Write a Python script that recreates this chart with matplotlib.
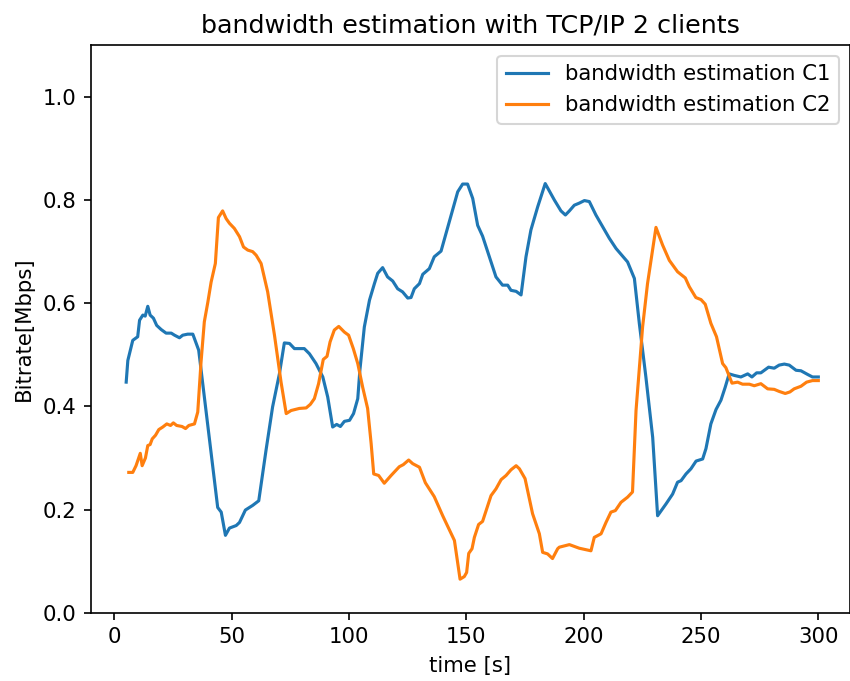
import matplotlib
matplotlib.use("Agg")
import matplotlib.pyplot as plt

# Client 1 bandwidth estimate: time [s] and bitrate [Mbps]
t_c1 = [5, 5.7, 7.8, 9.9, 10.7, 12.1, 13.1, 14.2, 15.2, 16.6, 18.0, 19.9, 22.0,
        24.2, 25.6, 27.7, 29.1, 31.2, 33.4, 35.9, 44.0, 45.5, 47.3, 49.0, 51.9,
        53.3, 55.8, 58.9, 61.5, 64.6, 67.4, 70.3, 72.4, 74.6, 76.7, 80.9, 83.1,
        85.9, 88.8, 90.9, 93.0, 94.7, 96.3, 98.0, 100.2, 101.9, 103.7, 104.6,
        106.5, 108.7, 110.8, 112.2, 114.3, 116.4, 118.6, 120.7, 122.8, 125.0,
        126.4, 127.8, 130.0, 131.4, 134.2, 136.3, 139.2, 141.3, 143.5, 146.3,
        148.4, 150.5, 152.7, 154.8, 156.9, 162.6, 165.4, 167.6, 169.0, 171.2,
        173.3, 175.4, 177.5, 180.4, 183.6, 187.5, 190.3, 192.2, 193.9, 196.0,
        198.1, 200.3, 202.4, 205.2, 208.1, 210.9, 213.8, 218.7, 221.6, 223.7,
        226.5, 229.4, 231.5, 235.1, 237.9, 240.0, 241.5, 243.6, 245.7, 247.9,
        250.7, 252.1, 254.2, 256.4, 258.5, 260.3, 262.0, 264.2, 267.0, 269.9,
        271.7, 273.7, 275.5, 278.8, 281.2, 283.3, 285.5, 287.6, 290.5, 292.6,
        295.4, 297.5, 300]
bw_c1 = [0.447, 0.489, 0.528, 0.535, 0.567, 0.577, 0.575, 0.594, 0.577, 0.571,
         0.557, 0.549, 0.542, 0.542, 0.538, 0.533, 0.538, 0.540, 0.540, 0.509,
         0.204, 0.195, 0.150, 0.164, 0.169, 0.175, 0.199, 0.208, 0.217, 0.315,
         0.399, 0.463, 0.523, 0.522, 0.512, 0.512, 0.502, 0.483, 0.457, 0.418,
         0.360, 0.365, 0.361, 0.371, 0.373, 0.386, 0.415, 0.470, 0.554, 0.606,
         0.638, 0.658, 0.669, 0.651, 0.643, 0.628, 0.622, 0.610, 0.611, 0.628,
         0.638, 0.656, 0.667, 0.690, 0.701, 0.735, 0.771, 0.816, 0.831, 0.831,
         0.803, 0.751, 0.730, 0.651, 0.635, 0.635, 0.625, 0.623, 0.616, 0.690,
         0.742, 0.787, 0.832, 0.800, 0.779, 0.771, 0.779, 0.790, 0.794, 0.799,
         0.797, 0.771, 0.748, 0.726, 0.706, 0.680, 0.648, 0.561, 0.457, 0.340,
         0.188, 0.211, 0.230, 0.253, 0.256, 0.269, 0.279, 0.294, 0.298, 0.318,
         0.366, 0.394, 0.412, 0.437, 0.463, 0.460, 0.457, 0.463, 0.457, 0.465,
         0.465, 0.476, 0.474, 0.480, 0.482, 0.480, 0.470, 0.469, 0.462, 0.457,
         0.457]

# Client 2 bandwidth estimate: time [s] and bitrate [Mbps]
t_c2 = [6.1, 7.8, 9.2, 11.0, 11.8, 13.2, 14.2, 15.2, 16.1, 17.5, 18.9, 20.6,
        22.3, 23.9, 25.1, 26.5, 28.8, 30.3, 31.7, 34.1, 35.5, 36.9, 38.3, 39.8,
        41.2, 43.0, 44.3, 46.1, 47.6, 49.0, 51.1, 53.3, 55.0, 56.8, 58.9, 60.4,
        62.5, 65.3, 68.2, 71.0, 73.2, 75.3, 78.8, 81.7, 83.5, 85.2, 87.0, 89.0,
        90.6, 91.9, 93.7, 95.6, 98.0, 99.8, 101.8, 103.7, 105.8, 107.9, 109.4,
        110.5, 112.6, 115.0, 117.9, 121.4, 123.1, 125.4, 127.1, 130.0, 132.5,
        136.3, 139.9, 144.9, 147.3, 149.1, 150.1, 151.0, 152.4, 153.4, 155.2,
        156.9, 160.5, 162.6, 164.8, 166.9, 169.0, 171.2, 172.6, 175.0, 178.2,
        181.1, 182.5, 184.6, 186.7, 188.9, 189.6, 193.9, 198.1, 203.1, 204.5,
        207.4, 209.5, 211.6, 213.5, 215.9, 218.7, 220.8, 222.3, 225.1, 227.2,
        230.8, 233.6, 236.5, 240.0, 243.3, 245.0, 247.8, 250.0, 251.8, 254.2,
        256.6, 259.2, 260.6, 263.2, 265.6, 267.7, 270.6, 272.7, 275.5, 278.4,
        281.2, 283.3, 285.9, 287.9, 289.7, 292.6, 295.0, 297.5, 300]
bw_c2 = [0.272, 0.272, 0.285, 0.309, 0.285, 0.300, 0.324, 0.326, 0.337, 0.344,
         0.355, 0.360, 0.366, 0.363, 0.368, 0.363, 0.361, 0.357, 0.363, 0.366,
         0.389, 0.486, 0.564, 0.602, 0.641, 0.677, 0.766, 0.779, 0.764, 0.755,
         0.745, 0.729, 0.709, 0.703, 0.700, 0.693, 0.677, 0.622, 0.538, 0.447,
         0.386, 0.392, 0.396, 0.397, 0.404, 0.415, 0.444, 0.491, 0.497, 0.525,
         0.548, 0.555, 0.544, 0.538, 0.512, 0.483, 0.437, 0.396, 0.328, 0.269,
         0.266, 0.251, 0.266, 0.283, 0.287, 0.296, 0.289, 0.282, 0.252, 0.225,
         0.188, 0.140, 0.065, 0.070, 0.078, 0.115, 0.124, 0.146, 0.171, 0.177,
         0.227, 0.240, 0.258, 0.266, 0.277, 0.285, 0.279, 0.260, 0.192, 0.153,
         0.117, 0.114, 0.105, 0.124, 0.127, 0.132, 0.125, 0.120, 0.146, 0.153,
         0.175, 0.195, 0.198, 0.214, 0.224, 0.234, 0.392, 0.554, 0.638, 0.747,
         0.713, 0.683, 0.661, 0.649, 0.632, 0.611, 0.607, 0.598, 0.561, 0.535,
         0.483, 0.475, 0.445, 0.447, 0.443, 0.443, 0.440, 0.444, 0.434, 0.433,
         0.429, 0.425, 0.428, 0.434, 0.439, 0.447, 0.450, 0.450]

plt.rcParams["font.size"] = 10.2

fig = plt.figure(figsize=(851 / 150, 681 / 150), dpi=150)
ax = fig.add_axes([91 / 851, 1 - 612.7 / 681, 759 / 851, (612.7 - 45.3) / 681])

ax.plot(t_c1, bw_c1, label="bandwidth estimation C1")
ax.plot(t_c2, bw_c2, label="bandwidth estimation C2")

ax.set_xlim(-10, 313.5)
ax.set_ylim(0, 1.1)
ax.set_title("bandwidth estimation with TCP/IP 2 clients", fontsize=12.2)
ax.set_xlabel("time [s]")
ax.set_ylabel("Bitrate[Mbps]")
ax.legend(loc="upper right")

fig.savefig("out.png", dpi=150)
